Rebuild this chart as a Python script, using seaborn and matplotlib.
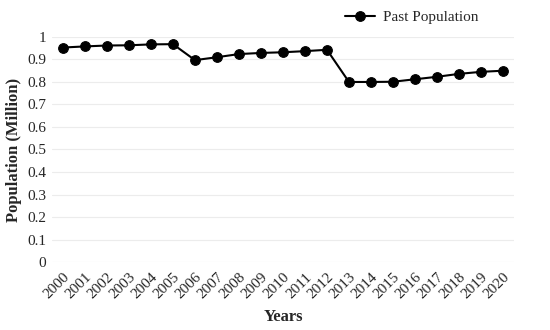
import pandas as pd
import matplotlib
matplotlib.use("Agg")
import matplotlib.pyplot as plt
import seaborn as sns

years = [str(y) for y in range(2000, 2021)]
population = [0.953, 0.958, 0.962, 0.963, 0.967, 0.968, 0.897, 0.910, 0.924, 0.929,
              0.932, 0.937, 0.943, 0.800, 0.800, 0.801, 0.812, 0.823, 0.836, 0.845, 0.850]
yticks = [0, 0.1, 0.2, 0.3, 0.4, 0.5, 0.6, 0.7, 0.8, 0.9, 1]
ytick_labels = ["0", "0.1", "0.2", "0.3", "0.4", "0.5", "0.6", "0.7", "0.8", "0.9", "1"]

sns.set_style("white")
plt.rcParams['font.family'] = ['Liberation Serif', 'DejaVu Serif']

df = pd.DataFrame({"Years": years, "Population": population})

fig = plt.figure(figsize=(5.5, 3.3), dpi=100)
ax = fig.add_axes([0.0945, 0.206, 0.84, 0.682])
sns.lineplot(data=df, x="Years", y="Population", marker="o", color="black",
             markersize=7, linewidth=1.5, markeredgecolor="black",
             label="Past Population", ax=ax, sort=False)

ax.set_xlim(-0.5, len(years) - 0.5)
ax.set_ylim(0, 1.0)
ax.set_yticks(yticks)
ax.set_yticklabels(ytick_labels)
ax.yaxis.grid(True, color="#ececec", linewidth=0.8)
ax.set_axisbelow(True)
for s in ax.spines.values():
    s.set_visible(False)
ax.tick_params(axis="both", length=0, labelsize=11, pad=4)
ax.tick_params(axis="x", pad=6)
plt.setp(ax.get_xticklabels(), rotation=45, ha="right", rotation_mode="anchor")
ax.set_xlabel("Years", fontsize=12, fontweight="bold", labelpad=6)
ax.set_ylabel("Population (Million)", fontsize=12, fontweight="bold", labelpad=4)

handles, labels = ax.get_legend_handles_labels()
ax.get_legend().remove()
fig.legend(handles, labels, loc="upper right", bbox_to_anchor=(0.895, 1.01),
           frameon=False, fontsize=11, handlelength=2.0, handletextpad=0.5)

fig.savefig("out.png", dpi=100)
